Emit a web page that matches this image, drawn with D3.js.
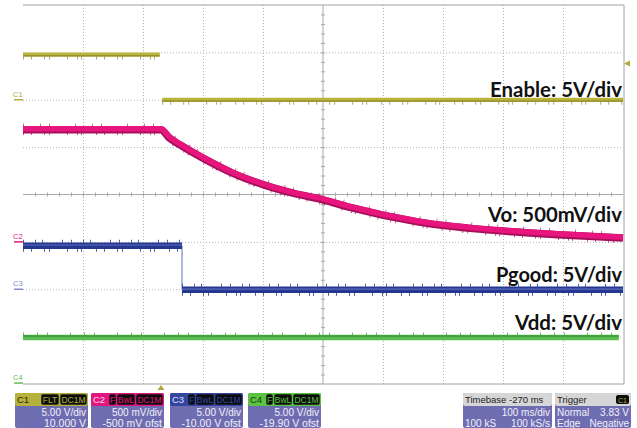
<!DOCTYPE html>
<html>
<head>
<meta charset="utf-8">
<script src="https://cdn.jsdelivr.net/npm/d3@7"></script>
<style>
  body { margin: 0; background: #fff; }
  svg { display: block; }
</style>
</head>
<body>
<script>
// scope settings, one entry per channel
const channels = ["C1", "C2", "C3", "C4"];
const traceNames = ["Enable: 5V/div", "Vo: 500mV/div", "Pgood: 5V/div", "Vdd: 5V/div"];
const voltsPerDiv = [5, 0.5, 5, 5];
const offsetV = [10, -0.5, -10, -19.9];
const scaleText = ["5.00 V/div", "500 mV/div", "5.00 V/div", "5.00 V/div"];
const offsetText = ["10.000 V", "-500 mV ofst", "-10.00 V ofst", "-19.90 V ofst"];
const tagText = [["FLT", "DC1M"], ["F", "BwL", "DC1M"], ["F", "BwL", "DC1M"], ["F", "BwL", "DC1M"]];

// time in ms relative to trigger, volts
const enableTime = [-230, -2, 0, 2, 770];
const enableVolts = [4.77, 4.77, null, 0, 0];

const voTime = [-230, 0, 13, 37, 70, 120, 170, 220, 270, 315, 430, 570, 670, 770];
const voVolts = [1.19, 1.19, 1.11, 1.01, 0.89, 0.73, 0.61, 0.52, 0.45, 0.37, 0.215, 0.12, 0.08, 0.046];

const pgoodTime = [-230, 35, 35, 35, 770];
const pgoodVolts = [4.6, 4.6, null, -0.05, -0.05];

const vddTime = [-230, 763];
const vddVolts = [4.8, 4.8];

const triggerLevel = 3.83;
const timebaseText = ["Timebase -270 ms", "100 ms/div", "100 kS", "100 kS/s"];
const triggerText = ["Trigger", "Normal", "3.83 V", "Edge", "Negative"];

const W = 637, H = 428;
const plot = { left: 23, right: 623, top: 5, bottom: 384 };

const svg = d3.select("body").append("svg")
    .attr("width", W)
    .attr("height", H);

const x = d3.scaleLinear().domain([-230, 770]).range([plot.left, plot.right]);
const yDiv = d3.scaleLinear().domain([-4, 4]).range([plot.bottom, plot.top]);

function yOf(ch, v) {
    return yDiv((v + offsetV[ch]) / voltsPerDiv[ch]);
}

// graticule
const majorT = d3.range(-230, 771, 100);
const gridCol = "#b4b4b4";

svg.append("g")
    .attr("transform", `translate(0,${plot.bottom})`)
    .call(d3.axisBottom(x)
        .tickValues(majorT.filter(t => t > -230 && t < 770 && t !== 270))
        .tickSize(-(plot.bottom - plot.top))
        .tickFormat(""))
    .call(g => g.select(".domain").remove())
    .call(g => g.selectAll("line").attr("stroke", gridCol).attr("stroke-dasharray", "1,2"));

svg.append("g")
    .attr("transform", `translate(${plot.left},0)`)
    .call(d3.axisLeft(yDiv)
        .tickValues([-3, -2, -1, 1, 2, 3])
        .tickSize(-(plot.right - plot.left))
        .tickFormat(""))
    .call(g => g.select(".domain").remove())
    .call(g => g.selectAll("line").attr("stroke", gridCol).attr("stroke-dasharray", "1,2"));

// center cross with minor ticks
svg.append("line")
    .attr("x1", plot.left).attr("x2", plot.right)
    .attr("y1", yDiv(0)).attr("y2", yDiv(0))
    .attr("stroke", "#a8a8a8");
svg.append("line")
    .attr("x1", x(270)).attr("x2", x(270))
    .attr("y1", plot.top).attr("y2", plot.bottom)
    .attr("stroke", "#a8a8a8");

svg.append("g")
    .attr("transform", `translate(0,${yDiv(0) + 2})`)
    .call(d3.axisTop(x).tickValues(d3.range(-210, 770, 20)).tickSize(4).tickFormat(""))
    .call(g => g.select(".domain").remove())
    .call(g => g.selectAll("line").attr("stroke", "#a8a8a8"));

svg.append("g")
    .attr("transform", `translate(${x(270) + 2},0)`)
    .call(d3.axisLeft(yDiv).tickValues(d3.range(-3.8, 4, 0.2)).tickSize(4).tickFormat(""))
    .call(g => g.select(".domain").remove())
    .call(g => g.selectAll("line").attr("stroke", "#a8a8a8"));

// border: top, right, bottom
svg.append("path")
    .attr("d", `M${plot.left},${plot.top}H${plot.right + 1}V${plot.bottom}H${plot.left}`)
    .attr("fill", "none")
    .attr("stroke", "#a0a0a0");

// traces
function drawTrace(ch, times, volts, layers) {
    const pts = times.map((t, i) => [t, volts[i]]);
    const line = d3.line()
        .defined(d => d[1] != null)
        .x(d => x(d[0]))
        .y(d => yOf(ch, d[1]))
        .curve(d3.curveMonotoneX);
    const g = svg.append("g");
    layers.forEach(l => {
        g.append("path")
            .datum(pts)
            .attr("d", line)
            .attr("transform", `translate(0,${l.dy || 0})`)
            .attr("fill", "none")
            .attr("stroke", l.color)
            .attr("stroke-width", l.width)
            .attr("stroke-dasharray", l.dash || null)
            .attr("opacity", l.opacity || 1);
    });
}

const spikes = "1,7,1,12,1,4,1,17,1,9,1,3,1,14";

drawTrace(0, enableTime, enableVolts, [
    { color: "#bbb33c", width: 4 },
    { color: "#8d8a26", width: 1.3, dy: 1.4 },
    { color: "#8d8a26", width: 3, dy: 3.5, dash: spikes, opacity: 0.7 }
]);

// pgood edge is a thin line
svg.append("line")
    .attr("x1", x(pgoodTime[1])).attr("x2", x(pgoodTime[3]))
    .attr("y1", yOf(2, pgoodVolts[1])).attr("y2", yOf(2, pgoodVolts[3]))
    .attr("stroke", "#7a86c4")
    .attr("stroke-width", 1.2);

drawTrace(2, pgoodTime, pgoodVolts, [
    { color: "#26378f", width: 6.5 },
    { color: "#4c5eb4", width: 1.6, dy: -0.6 },
    { color: "#26378f", width: 3, dy: 4.5, dash: spikes, opacity: 0.8 },
    { color: "#26378f", width: 3, dy: -4.5, dash: "1,11,1,6,1,19,1,8", opacity: 0.8 }
]);

drawTrace(3, vddTime, vddVolts, [
    { color: "#5cbc4f", width: 5.5 },
    { color: "#3a9a36", width: 1.6, dy: -1.6 },
    { color: "#3a9a36", width: 2.5, dy: -3.8, dash: "1,13,1,9,1,22", opacity: 0.7 }
]);

drawTrace(1, voTime, voVolts, [
    { color: "#a5105a", width: 7.5, dy: 0.6 },
    { color: "#e8157f", width: 5.5, dy: -0.3 },
    { color: "#a5105a", width: 3, dy: 4.5, dash: spikes, opacity: 0.7 },
    { color: "#a5105a", width: 3, dy: -4, dash: "1,16,1,8,1,25", opacity: 0.6 }
]);

// channel ground markers on the left
const chanColor = ["#b0aa3a", "#e0177f", "#7f8ac6", "#62c24a"];
channels.forEach((c, i) => {
    const gy = yOf(i, 0);
    svg.append("line")
        .attr("x1", 14).attr("x2", plot.left)
        .attr("y1", gy).attr("y2", gy)
        .attr("stroke", chanColor[i])
        .attr("stroke-width", 1.5);
    svg.append("text")
        .attr("x", 13).attr("y", gy - 3)
        .attr("font-family", "Liberation Sans, Arial, sans-serif")
        .attr("font-size", 7.5)
        .attr("fill", chanColor[i])
        .text(c);
});

// trigger level and position markers
const tly = yOf(0, triggerLevel);
svg.append("path")
    .attr("d", `M${plot.right + 1},${tly}L${plot.right + 7},${tly - 3}L${plot.right + 7},${tly + 3}Z`)
    .attr("fill", "#b0aa3a");
svg.append("path")
    .attr("d", `M${x(0)},${plot.bottom + 1}L${x(0) - 3.5},${plot.bottom + 6}L${x(0) + 3.5},${plot.bottom + 6}Z`)
    .attr("fill", "#b0aa3a");

// trace annotations
const labelY = [97, 222, 282, 330];
const labelLen = [132, 134, 126, 107];
traceNames.forEach((name, i) => {
    svg.append("text")
        .attr("x", plot.right - 1)
        .attr("y", labelY[i])
        .attr("text-anchor", "end")
        .attr("font-family", "Lato, 'Open Sans', sans-serif")
        .attr("font-weight", "bold")
        .attr("font-size", 21)
        .attr("fill", "#111")
        .attr("textLength", labelLen[i])
        .attr("lengthAdjust", "spacingAndGlyphs")
        .text(name);
});

// bottom info boxes
const panelFont = "Liberation Sans, Arial, sans-serif";
const bodyCol = "#6f6db1";
const headCol = ["#b6b03c", "#e0177f", "#3446a0", "#5cc241"];
const headTextCol = ["#2a2a10", "#ffd8ec", "#dfe3ff", "#143a10"];
const boxX = [15, 91, 170, 248];
const boxW = 73;

channels.forEach((c, i) => {
    const g = svg.append("g").attr("transform", `translate(${boxX[i]},393)`);
    g.append("rect").attr("width", boxW).attr("height", 35).attr("rx", 2).attr("fill", bodyCol);
    g.append("rect").attr("width", boxW).attr("height", 13).attr("rx", 2).attr("fill", headCol[i]);
    g.append("text").attr("x", 2).attr("y", 10)
        .attr("font-family", panelFont).attr("font-size", 9.5)
        .attr("fill", headTextCol[i]).text(c);
    const tags = tagText[i];
    const widths = tags.map(t => t.length <= 1 ? 7 : t.length === 3 ? 18 : 27);
    let tx = boxW - 1 - d3.sum(widths) - (tags.length - 1);
    tags.forEach((t, k) => {
        g.append("rect").attr("x", tx).attr("y", 1).attr("width", widths[k]).attr("height", 11)
            .attr("rx", 2).attr("fill", "#0c0c0c").attr("stroke", headCol[i]).attr("stroke-width", 0.6);
        g.append("text").attr("x", tx + widths[k] / 2).attr("y", 10)
            .attr("text-anchor", "middle")
            .attr("font-family", panelFont).attr("font-size", 8.5)
            .attr("fill", headCol[i]).text(t);
        tx += widths[k] + 1;
    });
    g.append("text").attr("x", boxW - 2).attr("y", 22.5)
        .attr("text-anchor", "end").attr("font-family", panelFont).attr("font-size", 10)
        .attr("fill", "#f0f0fa").text(scaleText[i]);
    g.append("text").attr("x", boxW - 2).attr("y", 33.5)
        .attr("text-anchor", "end").attr("font-family", panelFont).attr("font-size", 10.5)
        .attr("fill", "#f0f0fa").text(offsetText[i]);
});

function infoBox(x0, w, texts, withIcon) {
    const g = svg.append("g").attr("transform", `translate(${x0},393)`);
    g.append("rect").attr("width", w).attr("height", 35).attr("rx", 2).attr("fill", bodyCol);
    g.append("rect").attr("width", w).attr("height", 13).attr("rx", 2).attr("fill", "#d6d6d6");
    g.append("text").attr("x", 2).attr("y", 10)
        .attr("font-family", panelFont).attr("font-size", 9.5).attr("fill", "#222")
        .text(texts[0]);
    if (withIcon) {
        g.append("rect").attr("x", w - 15).attr("y", 2).attr("width", 13).attr("height", 9)
            .attr("rx", 2).attr("fill", "#0c0c0c");
        g.append("text").attr("x", w - 8.5).attr("y", 9.5).attr("text-anchor", "middle")
            .attr("font-family", panelFont).attr("font-size", 7).attr("fill", "#b6b03c").text("C1");
    }
    return g;
}

const tb = infoBox(463, 89, timebaseText, false);
tb.append("text").attr("x", 87).attr("y", 22.5).attr("text-anchor", "end")
    .attr("font-family", panelFont).attr("font-size", 10).attr("fill", "#f0f0fa").text(timebaseText[1]);
tb.append("text").attr("x", 2).attr("y", 33.5)
    .attr("font-family", panelFont).attr("font-size", 10).attr("fill", "#f0f0fa").text(timebaseText[2]);
tb.append("text").attr("x", 87).attr("y", 33.5).attr("text-anchor", "end")
    .attr("font-family", panelFont).attr("font-size", 10).attr("fill", "#f0f0fa").text(timebaseText[3]);

const tr = infoBox(555, 76, triggerText, true);
tr.append("text").attr("x", 2).attr("y", 22.5)
    .attr("font-family", panelFont).attr("font-size", 10).attr("fill", "#f0f0fa").text(triggerText[1]);
tr.append("text").attr("x", 74).attr("y", 22.5).attr("text-anchor", "end")
    .attr("font-family", panelFont).attr("font-size", 10).attr("fill", "#f0f0fa").text(triggerText[2]);
tr.append("text").attr("x", 2).attr("y", 33.5)
    .attr("font-family", panelFont).attr("font-size", 10).attr("fill", "#f0f0fa").text(triggerText[3]);
tr.append("text").attr("x", 74).attr("y", 33.5).attr("text-anchor", "end")
    .attr("font-family", panelFont).attr("font-size", 10).attr("fill", "#f0f0fa").text(triggerText[4]);
</script>
</body>
</html>
